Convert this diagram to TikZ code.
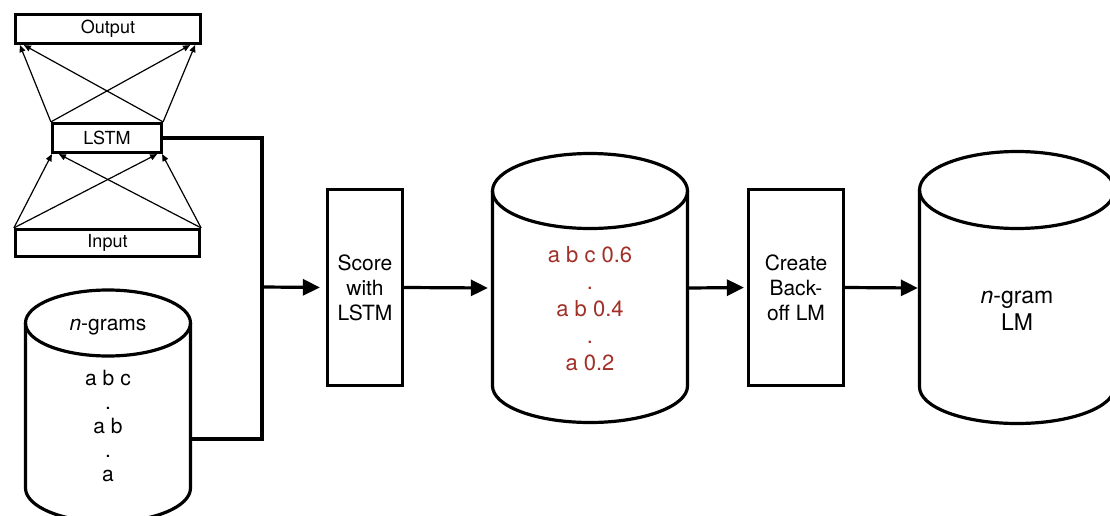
\documentclass[tikz,border=0pt]{standalone}
\usepackage{fontspec}
\setmainfont{TeX Gyre Heros}
\usetikzlibrary{arrows.meta,calc}
\definecolor{probred}{RGB}{160,48,40}
\begin{document}
\begin{tikzpicture}[x=1pt,y=-1pt,
  thickbox/.style={draw, line width=3.2pt, inner sep=0pt},
  netbox/.style={thickbox, font=\fontsize{18}{20}\selectfont},
  procbox/.style={thickbox, minimum height=196pt, align=center, font=\fontsize{21}{25}\selectfont},
  cyl/.style={draw, line width=3.2pt, line join=round},
  net/.style={line width=1.2pt, -{Triangle[length=7pt,width=6pt]}},
  conn/.style={line width=3.2pt},
  flow/.style={line width=3.2pt, -{Triangle[length=17pt,width=16pt]}},
  cyltext/.style={align=center, inner sep=0pt, font=\fontsize{21}{24}\selectfont},
  cylnode/.style={inner sep=0pt, minimum height=196pt},
]
\clip (0,0) rectangle (1110,516);
\fill[white] (0,0) rectangle (1110,516);

% network boxes
\node[netbox, minimum width=185pt, minimum height=29pt] (out) at (108,29) {Output};
\node[netbox, minimum width=109pt, minimum height=29pt] (lstm) at (107,138) {LSTM};
\node[netbox, minimum width=184pt, minimum height=27pt] (inp) at (107.5,243) {Input};

% network arrows
\draw[net] (lstm.north west) -- ($(out.south west)+(6,0)$);
\draw[net] (lstm.north west) -- ($(out.south east)+(-12,0)$);
\draw[net] (lstm.north east) -- ($(out.south west)+(10,0)$);
\draw[net] (lstm.north east) -- ($(out.south east)+(-7,0)$);
\draw[net] (inp.north west) -- ($(lstm.south west)+(1,0)$);
\draw[net] (inp.north west) -- ($(lstm.south east)+(-6,0)$);
\draw[net] (inp.north east) -- ($(lstm.south west)+(8,0)$);
\draw[net] (inp.north east) -- ($(lstm.south east)+(-1,0)$);

% cylinder 1: n-grams
\draw[cyl] (25.5,323) -- (25.5,488) arc[start angle=180,end angle=0,x radius=82.5,y radius=34] -- (190.5,323);
\draw[cyl] (108,323) ellipse[x radius=82.5, y radius=33];
\node[cylnode, minimum width=168pt, minimum height=165pt] (ng) at (108,405.5) {};
\node[cyltext] (ngt) at (108,327) {\textit{n}-grams};
\node[cyltext] (ngl) at (108,426) {a b c\\.\\a b\\.\\a};
\coordinate (ngin) at (192,439);

% process boxes
\node[procbox, minimum width=75pt] (score) at (365,287.5) {Score\\with\\LSTM};
\node[procbox, minimum width=95pt] (create) at (796,287.5) {Create\\Back-\\off LM};

% cylinder 2: scored n-grams
\draw[cyl] (492.5,191) -- (492.5,386) arc[start angle=180,end angle=0,x radius=97.5,y radius=36.5] -- (687.5,191);
\draw[cyl] (590,191) ellipse[x radius=97.5, y radius=37.5];
\node[cylnode, minimum width=198pt] (c2) at (590,288) {};
\node[cyltext, text=probred, font=\fontsize{22}{27}\selectfont] (c2l) at (590,309) {a b c 0.6\\.\\a b 0.4\\.\\a 0.2};

% cylinder 3: n-gram LM
\draw[cyl] (919.5,190) -- (919.5,387) arc[start angle=180,end angle=0,x radius=97.5,y radius=36.5] -- (1114.5,190);
\draw[cyl] (1017,190) ellipse[x radius=97.5, y radius=38.5];
\node[cylnode, minimum width=198pt] (c3) at (1017,288) {};
\node[cyltext, font=\fontsize{23}{27}\selectfont] (c3l) at (1017,311) {\textit{n}-gram\\LM};

% connectors
\coordinate (j) at (262,287);
\draw[conn] (lstm.east) -| (j) |- (ngin);
\draw[flow, shorten >=6pt] (j) -- (score.west);
\draw[flow, shorten >=3pt] (score.east) -- (c2.west);
\draw[flow, shorten >=3pt] (c2.east) -- (create.west);
\draw[flow] (create.east) -- (c3.west);
\end{tikzpicture}
\end{document}
